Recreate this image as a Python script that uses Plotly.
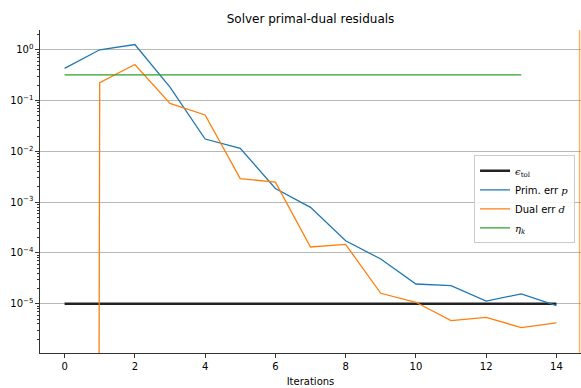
import plotly.graph_objects as go

iterations = list(range(15))
prim_err = [0.43, 1.0, 1.27, 0.184, 0.0175, 0.0115, 0.00186, 0.00079, 0.000174,
            7.6e-5, 2.45e-5, 2.28e-5, 1.13e-5, 1.57e-5, 9.2e-6]
dual_err = [0.0, 0.225, 0.514, 0.088, 0.052, 0.00292, 0.00247, 1.31e-4, 1.47e-4,
            1.61e-5, 1.07e-5, 4.66e-6, 5.4e-6, 3.4e-6, 4.2e-6]
eta_k = [0.32] * 14
eps_tol = 1e-5

y_tickvals = [1e0, 1e-1, 1e-2, 1e-3, 1e-4, 1e-5]
y_ticktext = ["10<sup>0</sup>", "10<sup>\u22121</sup>", "10<sup>\u22122</sup>",
              "10<sup>\u22123</sup>", "10<sup>\u22124</sup>", "10<sup>\u22125</sup>"]
x_tickvals = [0, 2, 4, 6, 8, 10, 12, 14]

# log axes clip non-positive values to a tiny positive number (as matplotlib does)
dual_plot = [v if v > 0 else 1e-300 for v in dual_err]

serif = "DejaVu Serif"
fig = go.Figure()
fig.add_trace(go.Scatter(
    x=[iterations[0], iterations[-1]], y=[eps_tol, eps_tol], mode="lines",
    line=dict(color="#222222", width=2.6),
    name=f"<span style='font-family:{serif}'><i>\u03f5</i><sub>tol</sub></span>"))
fig.add_trace(go.Scatter(
    x=iterations, y=prim_err, mode="lines", line=dict(color="#1f77b4", width=1.3),
    name=f"Prim. err <span style='font-family:{serif}'><i>p</i></span>"))
fig.add_trace(go.Scatter(
    x=iterations, y=dual_plot, mode="lines", line=dict(color="#ff7f0e", width=1.3),
    name=f"Dual err <span style='font-family:{serif}'><i>d</i></span>"))
fig.add_trace(go.Scatter(
    x=iterations[:len(eta_k)], y=eta_k, mode="lines", line=dict(color="#2ca02c", width=1.3),
    name=f"<span style='font-family:{serif}'><i>\u03b7</i><sub><i>k</i></sub></span>"))

# orange line at the right edge of the axes
fig.add_shape(type="line", xref="paper", yref="paper", x0=0.9975, x1=0.9975, y0=0, y1=1,
              line=dict(color="rgba(255,127,14,0.6)", width=1.5), layer="above")

axis_color = "#333333"
fig.update_layout(
    width=581, height=388,
    margin=dict(l=40, r=0, t=29.5, b=35),
    plot_bgcolor="white", paper_bgcolor="white",
    font=dict(family="DejaVu Sans", size=10, color="#000000"),
    title=dict(text="Solver primal-dual residuals", x=(40 + 541 / 2) / 581, xanchor="center",
               y=1 - 19 / 388, yanchor="middle", font=dict(size=12, color="#000000")),
    showlegend=True,
    legend=dict(x=0.989, xanchor="right", y=0.612, yanchor="top",
                bgcolor="rgba(255,255,255,0.85)", bordercolor="#cccccc", borderwidth=1,
                font=dict(size=10), itemwidth=30, tracegroupgap=0),
    xaxis=dict(range=[-0.7, 14.7], tickvals=x_tickvals, showgrid=False, zeroline=False,
               showline=True, linecolor=axis_color, linewidth=1.2, mirror=False,
               ticks="outside", ticklen=3.5, tickwidth=1, tickcolor=axis_color,
               title=dict(text="Iterations", standoff=7, font=dict(size=10))),
    yaxis=dict(type="log", range=[-5.969, 0.389], tickvals=y_tickvals, ticktext=y_ticktext,
               showgrid=True, gridcolor="#b8b8b8", gridwidth=0.9, zeroline=False,
               showline=True, linecolor=axis_color, linewidth=1.2,
               ticks="outside", ticklen=3.5, tickwidth=1, tickcolor=axis_color,
               minor=dict(ticks="outside", ticklen=2, tickwidth=0.8, tickcolor=axis_color,
                          dtick="D1", showgrid=False)),
)

fig.write_html("out.html")
